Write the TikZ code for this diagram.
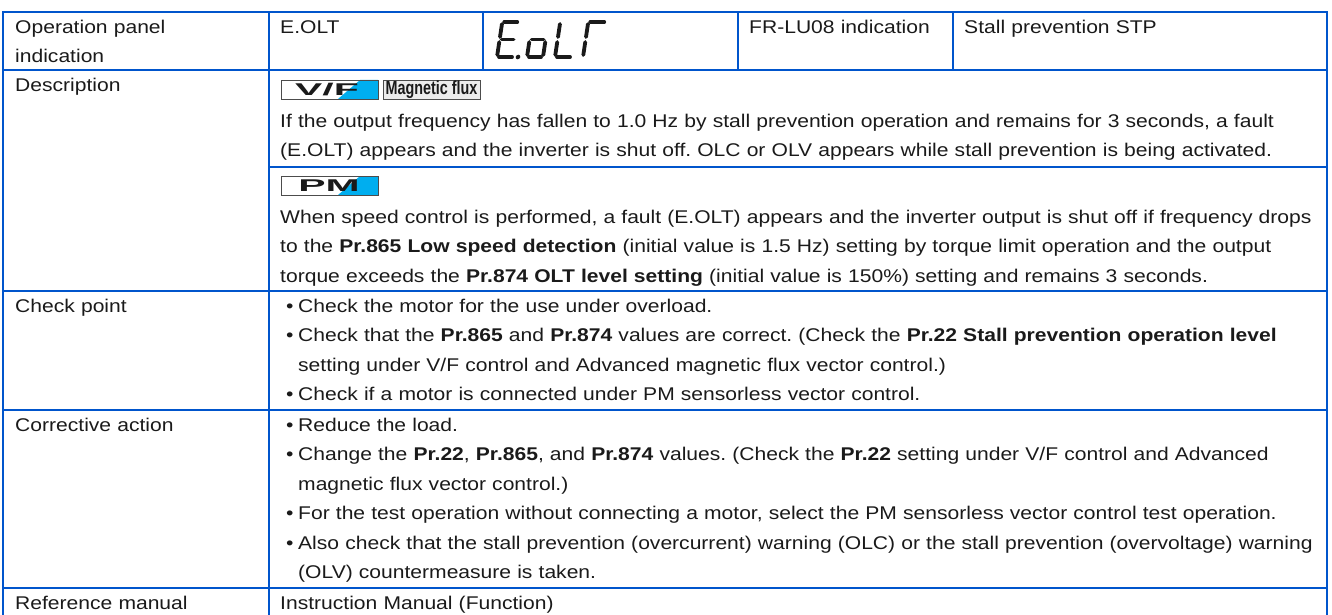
\documentclass[tikz,border=0pt]{standalone}
\usepackage{fontspec}
\setmainfont{Liberation Sans}[FakeStretch=1.145]
\definecolor{tabblue}{HTML}{0055CC}
\definecolor{badgecyan}{HTML}{00AEEF}
\definecolor{ink}{HTML}{1A1A1A}
\newcommand{\bul}{\makebox[12pt][l]{\textbullet}}
\newcommand{\ind}{\hspace*{12pt}}
\frenchspacing
\begin{document}
\begin{tikzpicture}[x=1pt,y=-1pt,
  grid/.style={draw=tabblue,line width=2.4pt},
  txt/.style={anchor=base west,inner sep=0pt,align=left,text width=1100pt,text=ink,font=\fontsize{18.4}{29.4}\selectfont},
  seg/.style={line width=3.8pt,line cap=round,draw=ink},
  badge/.style={draw=gray!60!black,line width=0.8pt},
  badgetxt/.style={inner sep=0pt,text=ink,font=\fontsize{17}{17}\selectfont\bfseries}]
\useasboundingbox (0,0) rectangle (1332,615);
\clip (0,0) rectangle (1332,615);
% ---- grid ----
\draw[grid] (3,12) rectangle (1327,640);
\draw[grid] (3,70) -- (1327,70);
\draw[grid] (269,167) -- (1327,167);
\draw[grid] (3,291) -- (1327,291);
\draw[grid] (3,410) -- (1327,410);
\draw[grid] (3,588) -- (1327,588);
\draw[grid] (269,12) -- (269,640);
\draw[grid] (483,12) -- (483,70);
\draw[grid] (738,12) -- (738,70);
\draw[grid] (953,12) -- (953,70);
% ---- header ----
\node[txt] (h1) at (15,33.5) {Operation panel\\indication};
\node[txt] (h2) at (280,33.5) {E.OLT};
\node[txt] (h4) at (749,33.5) {FR-LU08 indication};
\node[txt] (h5) at (964,33.5) {Stall prevention STP};
% ---- seven segment E.oLT ----
\begin{scope}[shift={(497,57)},xslant=0.15]
  \draw[seg] (2,-35)--(15,-35); \draw[seg] (0,-33)--(0,-20); \draw[seg] (2,-17.5)--(14,-17.5);
  \draw[seg] (0,-15)--(0,-2); \draw[seg] (2,0)--(15,0);
  \fill[ink] (21,0) circle (2.3pt);
\end{scope}
\begin{scope}[shift={(527,57)},xslant=0.15]
  \draw[seg] (2,-17.5)--(14,-17.5); \draw[seg] (0,-15)--(0,-2); \draw[seg] (16,-15)--(16,-2);
  \draw[seg] (2,0)--(14,0);
\end{scope}
\begin{scope}[shift={(555,57)},xslant=0.15]
  \draw[seg] (0,-33)--(0,-20); \draw[seg] (0,-15)--(0,-2); \draw[seg] (2,0)--(15,0);
\end{scope}
\begin{scope}[shift={(583,57)},xslant=0.15]
  \draw[seg] (2,-35)--(16,-35); \draw[seg] (0,-33)--(0,-20); \draw[seg] (0,-15)--(0,-2);
\end{scope}
% ---- left column ----
\node[txt] (l1) at (15,91.5) {Description};
\node[txt] (l2) at (15,312.5) {Check point};
\node[txt] (l3) at (15,431.5) {Corrective action};
\node[txt] (l4) at (15,609.5) {Reference manual};
% ---- badges ----
\fill[white] (281,80) rectangle (378,99);
\fill[badgecyan] (338,99) -- (378,99) -- (378,80) -- (360,80) -- cycle;
\draw[badge] (281,80) rectangle (378,99);
\node[badgetxt] (vf) at (327,89.8) {\scalebox{2.1}[1]{V/F}};
\fill[gray!15] (383,80) rectangle (480,99);
\draw[badge] (383,80) rectangle (480,99);
\node[badgetxt,font=\fontsize{19}{19}\selectfont\bfseries] (mf) at (431.5,90) {\scalebox{0.66}[1]{Magnetic flux}};
\fill[white] (281,176) rectangle (378,195);
\fill[badgecyan] (338,195) -- (378,195) -- (378,176) -- (360,176) -- cycle;
\draw[badge] (281,176) rectangle (378,195);
\node[badgetxt] (pm) at (329,185.8) {\scalebox{2.1}[1]{PM}};
% ---- right column ----
\node[txt] (d1) at (280,127.5) {If the output frequency has fallen to 1.0 Hz by stall prevention operation and remains for 3 seconds, a fault\\(E.OLT) appears and the inverter is shut off. OLC or OLV appears while stall prevention is being activated.};
\node[txt] (d2) at (280,223.2) {When speed control is performed, a fault (E.OLT) appears and the inverter output is shut off if frequency drops\\to the \textbf{Pr.865 Low speed detection} (initial value is 1.5 Hz) setting by torque limit operation and the output\\torque exceeds the \textbf{Pr.874 OLT level setting} (initial value is 150\%) setting and remains 3 seconds.};
\node[txt] (c1) at (286,312.5) {\bul Check the motor for the use under overload.\\\bul Check that the \textbf{Pr.865} and \textbf{Pr.874} values are correct. (Check the \textbf{Pr.22 Stall prevention operation level}\\\ind setting under V/F control and Advanced magnetic flux vector control.)\\\bul Check if a motor is connected under PM sensorless vector control.};
\node[txt] (a1) at (286,431.5) {\bul Reduce the load.\\\bul Change the \textbf{Pr.22}, \textbf{Pr.865}, and \textbf{Pr.874} values. (Check the \textbf{Pr.22} setting under V/F control and Advanced\\\ind magnetic flux vector control.)\\\bul For the test operation without connecting a motor, select the PM sensorless vector control test operation.\\\bul Also check that the stall prevention (overcurrent) warning (OLC) or the stall prevention (overvoltage) warning\\\ind (OLV) countermeasure is taken.};
\node[txt] (r1) at (280,609.5) {Instruction Manual (Function)};
\end{tikzpicture}
\end{document}
